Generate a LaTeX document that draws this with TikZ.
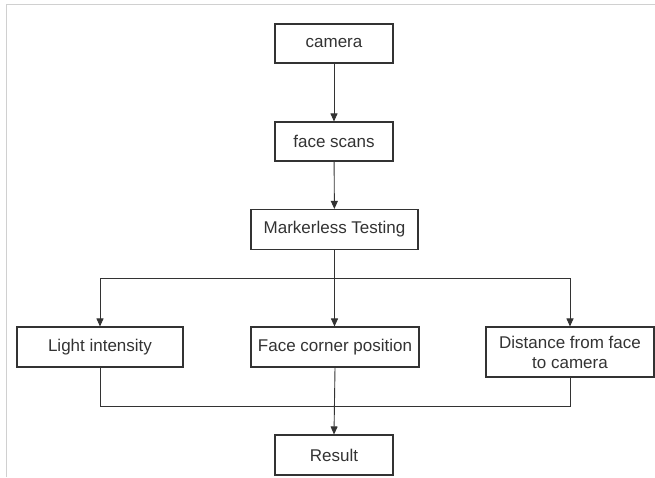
\documentclass[tikz,border=0pt]{standalone}
\usepackage{fontspec}
\setmainfont{Liberation Sans}
\usetikzlibrary{positioning, arrows.meta}
\definecolor{inkgray}{HTML}{333333}
\definecolor{framegray}{HTML}{D0D0D0}

\begin{document}
\begin{tikzpicture}[
    x=1pt, y=-1pt,
    font=\fontsize{17}{20}\selectfont,
    box/.style={rectangle, draw=inkgray, line width=1.1pt, fill=white, minimum width=118pt, minimum height=39pt, align=center, text=inkgray, inner sep=2pt},
    widebox/.style={box, minimum width=167pt, minimum height=40pt},
    flow/.style={inkgray, line width=0.9pt, -{Triangle[length=8pt, width=7pt]}},
    mergeline/.style={inkgray, line width=0.9pt}
]

\useasboundingbox (0,0) rectangle (655,477);

% ==================== FRAME ====================
\draw[framegray, line width=0.8pt] (6,477) -- (6,4) -- (655,4);

% ==================== NODES ====================
\node[box] (camera) at (334,43.5) {camera};
\node[box] (scans) at (334,141.5) {face scans};
\node[widebox] (testing) at (334.5,229.5) {Markerless Testing};

\node[widebox, minimum width=166pt] (light) at (100,347) {Light intensity};
\node[widebox, minimum width=168pt] (corner) at (335,347) {Face corner position};
\node[widebox, minimum width=168pt, minimum height=50pt] (distance) at (570,352) {Distance from face\\to camera};

\node[box, minimum height=40pt] (result) at (334,455) {Result};

% ==================== CONNECTORS ====================
\coordinate (split) at (334,278);
\coordinate (merge) at (334,406);

% Row 1: Down
\draw[flow] (camera) -- (scans);
\draw[flow] (scans) -- (testing);

% Split into three
\draw[flow] (testing.south) -- (testing.south |- light.north);
\draw[flow] (split) -| (light.north);
\draw[flow] (split) -| (distance.north);

% Merge into result
\draw[mergeline] (light.south) |- (merge);
\draw[mergeline] (distance.south) |- (merge);
\draw[flow] (corner.south) -- (result.north);

\end{tikzpicture}
\end{document}
